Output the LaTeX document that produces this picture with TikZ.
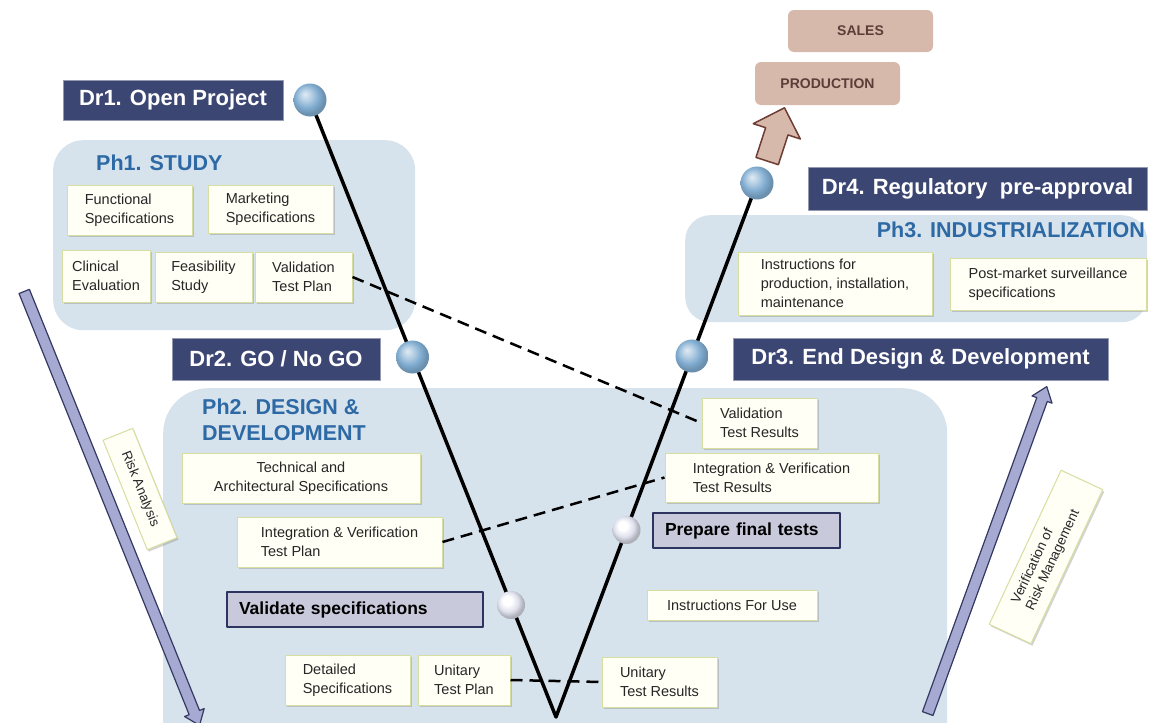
\documentclass[tikz,border=0pt]{standalone}
\usepackage{fontspec}
\setmainfont{Liberation Sans}
\usetikzlibrary{shapes.arrows,shadows}

\definecolor{drnavy}{RGB}{60,70,115}
\definecolor{phblue}{RGB}{215,227,236}
\definecolor{phtext}{RGB}{45,105,165}
\definecolor{noteline}{RGB}{214,222,160}
\definecolor{notefill}{RGB}{255,255,246}
\definecolor{procfill}{RGB}{200,202,220}
\definecolor{procline}{RGB}{45,52,95}
\definecolor{brownbox}{RGB}{215,185,172}
\definecolor{brownline}{RGB}{110,60,50}
\definecolor{browntext}{RGB}{90,62,55}
\definecolor{arrowfill}{RGB}{166,169,210}
\definecolor{arrowline}{RGB}{52,57,98}
\definecolor{ballblue}{RGB}{128,172,208}
\definecolor{ballwhite}{RGB}{222,224,236}

\pgfdeclareradialshading{sphereblue}{\pgfpoint{-8bp}{9bp}}{color(0bp)=(ballblue!25!white); color(8bp)=(ballblue!55!white); color(18bp)=(ballblue); color(25bp)=(ballblue!85!black); color(50bp)=(ballblue!65!black)}
\pgfdeclareradialshading{spherewhite}{\pgfpoint{-8bp}{9bp}}{color(0bp)=(white); color(8bp)=(white); color(18bp)=(ballwhite); color(25bp)=(ballwhite!80!black); color(50bp)=(ballwhite!60!black)}

\newcommand{\fsz}[2]{\fontsize{#1}{#2}\selectfont}

\tikzset{
  drbox/.style={fill=drnavy, draw=drnavy!55, line width=1pt, text=white, font=\fsz{22}{24}\bfseries, inner sep=0pt},
  phase/.style={fill=phblue, rounded corners=30pt, inner sep=0pt},
  phtitle/.style={text=phtext, font=\fsz{21.5}{26}\bfseries, align=left, inner sep=0pt},
  note/.style={fill=notefill, draw=noteline, line width=1pt, drop shadow={shadow xshift=1.5pt, shadow yshift=-2pt, opacity=0.35}, font=\fsz{14.5}{19}, align=left, inner sep=0pt, text=black!85},
  procbox/.style={fill=procfill, draw=procline, line width=2pt, font=\fsz{17.5}{20}\bfseries, inner xsep=12pt, inner ysep=0pt, align=left},
  salesbox/.style={fill=brownbox, rounded corners=6pt, text=browntext, font=\fsz{14}{16}\bfseries, inner sep=0pt},
  drball/.style={circle, shading=sphereblue, minimum size=33pt, inner sep=0pt},
  subball/.style={circle, shading=spherewhite, minimum size=28pt, inner sep=0pt},
  link/.style={line width=2.5pt, dash pattern=on 12pt off 7pt},
  vline/.style={line width=3.5pt},
  riskarrow/.style={single arrow, fill=arrowfill, draw=arrowline, line width=1.2pt, inner sep=5pt, single arrow head extend=5pt, single arrow tip angle=75},
  brownarrow/.style={single arrow, fill=brownbox, draw=brownline, line width=1.5pt, inner sep=11pt, single arrow head extend=13pt},
  risknote/.style={note, font=\fsz{13.5}{16}}
}

\begin{document}
\begin{tikzpicture}[x=1pt,y=-1pt,line join=round]
\useasboundingbox (0,0) rectangle (1149,723);

% phases
\node[phase, anchor=north west, minimum width=362pt, minimum height=190pt] (ph1) at (53,140) {};
\node[phase, anchor=north west, minimum width=784pt, minimum height=400pt, rounded corners=45pt] (ph2) at (163,388) {};
\node[phase, anchor=north west, minimum width=462pt, minimum height=107pt, rounded corners=25pt] (ph3) at (685,215) {};
\node[phtitle, anchor=west] (ph1t) at (96,163) {Ph1. STUDY};
\node[phtitle, anchor=west] (ph2t) at (202,420) {Ph2. DESIGN \&\\DEVELOPMENT};
\node[phtitle, anchor=east] (ph3t) at (1145,230) {Ph3. INDUSTRIALIZATION};

% study
\node[note, minimum width=125pt, minimum height=50pt] (func) at (129.5,210) {Functional\\Specifications};
\node[note, minimum width=125pt, minimum height=48pt] (mkt) at (270.5,209) {Marketing\\Specifications};
\node[note, minimum width=88pt, minimum height=52pt] (clin) at (106,276) {Clinical\\Evaluation};
\node[note, minimum width=97pt, minimum height=50pt] (feas) at (203.5,277) {Feasibility\\Study};
\node[note, minimum width=97pt, minimum height=50pt] (valplan) at (303.5,277) {Validation\\Test Plan};

% industrialization
\node[note, minimum width=194pt, minimum height=63pt] (instr) at (835,283.5) {Instructions for\\production, installation,\\maintenance};
\node[note, minimum width=196pt, minimum height=52pt] (postm) at (1048,284) {Post-market surveillance\\specifications};

% design and development
\node[note, minimum width=238pt, minimum height=50pt, align=center] (tech) at (301,478) {Technical and\\Architectural Specifications};
\node[note, minimum width=205pt, minimum height=50pt] (ivplan) at (339.5,542) {Integration \& Verification\\Test Plan};
\node[note, minimum width=125pt, minimum height=50pt] (detspec) at (347.5,680) {Detailed\\Specifications};
\node[note, minimum width=92pt, minimum height=50pt] (utplan) at (464,680) {Unitary\\Test Plan};
\node[note, minimum width=115pt, minimum height=50pt] (valres) at (759.5,423) {Validation\\Test Results};
\node[note, minimum width=213pt, minimum height=49pt] (ivres) at (771.5,477.5) {Integration \& Verification\\Test Results};
\node[note, minimum width=170pt, minimum height=30pt, align=center] (ifu) at (732,605) {Instructions For Use};
\node[note, minimum width=115pt, minimum height=50pt] (utres) at (659.5,682) {Unitary\\Test Results};

% dashed links
\draw[link] (valplan.east) -- (valres.west);
\draw[link] (ivplan.east) -- (ivres.west);
\draw[link] (utplan.east) -- (utres.west);

% the V
\coordinate (c1) at (310,100);
\coordinate (c2) at (412.5,357);
\coordinate (c3) at (692,356);
\coordinate (c4) at (757,183);
\coordinate (s1) at (511,605);
\coordinate (s2) at (626.5,530);
\coordinate (vbot) at (556,717);
\draw[vline] (c1) -- (vbot) -- (c4);

\node[drball] (b1) at (c1) {};
\node[drball] (b2) at (c2) {};
\node[drball] (b3) at (c3) {};
\node[drball] (b4) at (c4) {};
\node[subball] (w1) at (s1) {};
\node[subball] (w2) at (s2) {};

% decision reviews
\node[drbox, minimum width=220pt, minimum height=40pt] (dr1) at (173,100) {Dr1. Open Project};
\node[drbox, minimum width=208pt, minimum height=42pt] (dr2) at (276,359) {Dr2. GO / No GO};
\node[drbox, minimum width=375pt, minimum height=42pt] (dr3) at (920.5,359) {Dr3. End Design \& Development};
\node[drbox, minimum width=339pt, minimum height=43pt] (dr4) at (977.5,188.5) {Dr4. Regulatory\ \ pre-approval};

\node[procbox, text width=232pt, minimum height=35pt] (valspec) at (355,609.5) {Validate specifications};
\node[procbox, text width=163pt, minimum height=35pt] (prep) at (746.5,530.5) {Prepare final tests};

% market
\node[salesbox, minimum width=145pt, minimum height=42pt] (sales) at (860.5,31) {SALES};
\node[salesbox, minimum width=145pt, minimum height=43pt] (prod) at (827.5,83.5) {PRODUCTION};
\node[brownarrow, minimum height=56pt, rotate=72] (toprod) at (774,140) {};

% risk management
\node[riskarrow, minimum height=468pt, rotate=-68] (riskarr) at (110.5,505) {};
\node[riskarrow, minimum height=348pt, rotate=70] (verarr) at (986,553.5) {};
\node[risknote, minimum width=118pt, minimum height=32pt, rotate=-68, align=center] (risk) at (140,489) {Risk Analysis};
\node[risknote, minimum width=170pt, minimum height=46pt, rotate=65] (verif) at (1046,557) {Verification of\\Risk Management};
\end{tikzpicture}
\end{document}
